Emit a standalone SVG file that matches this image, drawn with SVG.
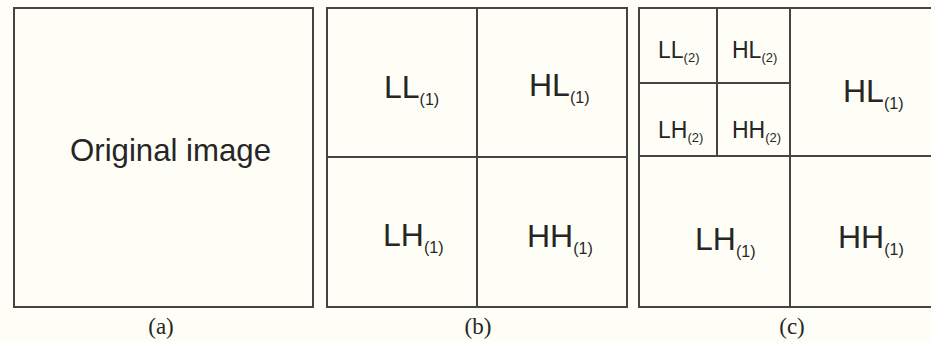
<svg xmlns="http://www.w3.org/2000/svg" width="931" height="342" viewBox="0 0 931 342">
<style>
.bg{fill:#fefef6}
.cell{fill:none;stroke:#444;stroke-width:2}
.lbl{font-family:"Liberation Sans",Arial,sans-serif;fill:#262626}
.big{font-size:32px}
.small{font-size:23px}
.sub1{font-size:16px}
.sub2{font-size:13px}
.cap{font-family:"Liberation Serif","Times New Roman",serif;font-size:23px;fill:#262626;text-anchor:middle}
</style>
<rect class="bg" x="0" y="0" width="931" height="342"/>
<g id="panel-a">
  <rect class="cell" x="14" y="8" width="299" height="299"/>
  <text class="lbl big" x="70" y="161" textLength="201" lengthAdjust="spacingAndGlyphs">Original image</text>
  <text class="cap" x="161" y="334">(a)</text>
</g>
<g id="panel-b">
  <g id="b-LL1">
    <rect class="cell" x="327" y="8" width="150" height="149"/>
    <text class="lbl big" x="384" y="98">LL<tspan class="sub1" dy="7">(1)</tspan></text>
  </g>
  <g id="b-HL1">
    <rect class="cell" x="477" y="8" width="150" height="149"/>
    <text class="lbl big" x="529" y="96">HL<tspan class="sub1" dy="7">(1)</tspan></text>
  </g>
  <g id="b-LH1">
    <rect class="cell" x="327" y="157" width="150" height="150"/>
    <text class="lbl big" x="383" y="246">LH<tspan class="sub1" dy="7">(1)</tspan></text>
  </g>
  <g id="b-HH1">
    <rect class="cell" x="477" y="157" width="150" height="150"/>
    <text class="lbl big" x="527" y="247">HH<tspan class="sub1" dy="7">(1)</tspan></text>
  </g>
  <text class="cap" x="478" y="334">(b)</text>
</g>
<g id="panel-c">
  <g id="c-LL2">
    <rect class="cell" x="639" y="8" width="78" height="75"/>
    <text class="lbl small" x="658" y="58">LL<tspan class="sub2" dy="4">(2)</tspan></text>
  </g>
  <g id="c-HL2">
    <rect class="cell" x="717" y="8" width="73" height="75"/>
    <text class="lbl small" x="732" y="58">HL<tspan class="sub2" dy="4">(2)</tspan></text>
  </g>
  <g id="c-LH2">
    <rect class="cell" x="639" y="83" width="78" height="73"/>
    <text class="lbl small" x="658" y="138">LH<tspan class="sub2" dy="4">(2)</tspan></text>
  </g>
  <g id="c-HH2">
    <rect class="cell" x="717" y="83" width="73" height="73"/>
    <text class="lbl small" x="732" y="138">HH<tspan class="sub2" dy="4">(2)</tspan></text>
  </g>
  <g id="c-HL1">
    <rect class="cell" x="790" y="8" width="160" height="148"/>
    <text class="lbl big" x="843" y="102">HL<tspan class="sub1" dy="7">(1)</tspan></text>
  </g>
  <g id="c-LH1">
    <rect class="cell" x="639" y="156" width="151" height="151"/>
    <text class="lbl big" x="695" y="250">LH<tspan class="sub1" dy="7">(1)</tspan></text>
  </g>
  <g id="c-HH1">
    <rect class="cell" x="790" y="156" width="160" height="151"/>
    <text class="lbl big" x="838" y="248">HH<tspan class="sub1" dy="7">(1)</tspan></text>
  </g>
  <text class="cap" x="792" y="334">(c)</text>
</g>
</svg>
